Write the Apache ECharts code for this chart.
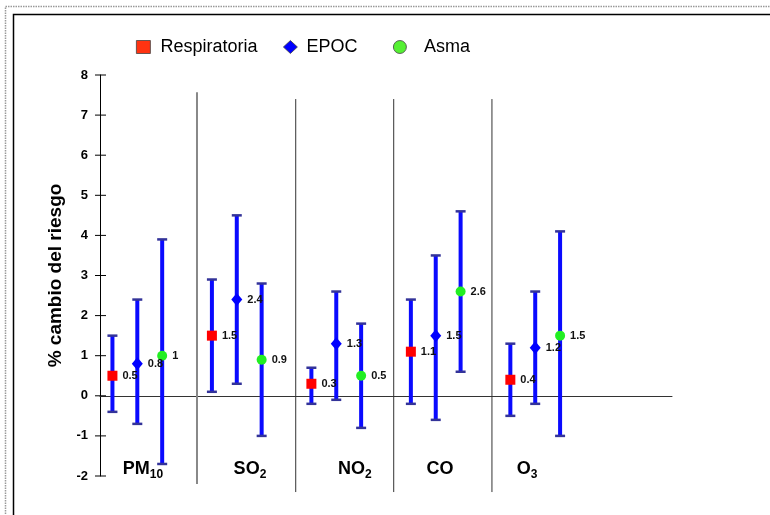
<!DOCTYPE html>
<html><head><meta charset="utf-8">
<script src="https://cdn.jsdelivr.net/npm/echarts@6/dist/echarts.min.js"></script>
<style>html,body{margin:0;padding:0;background:#fff}#c{width:770px;height:515px}</style>
</head><body><div id="c"></div>
<script>
// ---- data ----
const pollutantMain = ['PM', 'SO', 'NO', 'CO', 'O'];
const pollutantSub = ['10', '2', '2', '', '3'];
const seriesNames = ['Respiratoria', 'EPOC', 'Asma'];
const respValues = [0.5, 1.5, 0.3, 1.1, 0.4];
const respLow    = [-0.4, 0.1, -0.2, -0.2, -0.5];
const respHigh   = [1.5, 2.9, 0.7, 2.4, 1.3];
const epocValues = [0.8, 2.4, 1.3, 1.5, 1.2];
const epocLow    = [-0.7, 0.3, -0.1, -0.6, -0.2];
const epocHigh   = [2.4, 4.5, 2.6, 3.5, 2.6];
const asmaValues = [1, 0.9, 0.5, 2.6, 1.5];
const asmaLow    = [-1.7, -1.0, -0.8, 0.6, -1.0];
const asmaHigh   = [3.9, 2.8, 1.8, 4.6, 4.1];
const yTickValues = [-2, -1, 0, 1, 2, 3, 4, 5, 6, 7, 8];

// ---- layout (not data) ----
const FONT = 'Liberation Sans, Arial, sans-serif';
const SLOTS = 4, OFFSET = 0.5;
const xOf = (g, s) => g * SLOTS + OFFSET + s;
const separatorX = [3.9, 7.87, 11.81, 15.76];
const separatorTop = [7.57, 7.4, 7.4, 7.4];
const separatorBottom = [-2.2, -2.4, -2.4, -2.4];
const labelX = [1.73, 6.03, 10.25, 13.67, 17.17];
const labelY = -1.83;

const groups = [
  {values: respValues, low: respLow, high: respHigh, symbol: 'rect', size: 10, color: '#ff0000', legendColor: '#ff3311'},
  {values: epocValues, low: epocLow, high: epocHigh, symbol: 'diamond', size: [11, 13], color: '#0000ff', legendColor: '#0000ff'},
  {values: asmaValues, low: asmaLow, high: asmaHigh, symbol: 'circle', size: 10, color: '#22ee22', legendColor: '#55f033'}
];

const errData = [];
groups.forEach((gr, s) => gr.values.forEach((v, g) => errData.push([xOf(g, s), gr.low[g], gr.high[g]])));

const series = [];
// cross ticks on the y axis (both sides of the axis line)
series.push({
  type: 'custom', name: 'ticks', silent: true, clip: false, z: 2,
  data: yTickValues.map(v => [0, v]),
  renderItem: (p, api) => {
    const c = api.coord([api.value(0), api.value(1)]);
    return {type: 'line', shape: {x1: c[0] - 5, y1: c[1], x2: c[0] + 6, y2: c[1]}, style: {stroke: '#000', lineWidth: 1}};
  }
});
series.push({
  type: 'custom', name: 'sep', silent: true, clip: false, z: 1,
  data: separatorX.map((x, i) => [x, separatorTop[i], separatorBottom[i], i]),
  renderItem: (p, api) => {
    const a = api.coord([api.value(0), api.value(1)]);
    const b = api.coord([api.value(0), api.value(2)]);
    const first = api.value(3) === 0;
    return {type: 'line', shape: {x1: a[0], y1: a[1], x2: b[0], y2: b[1]},
      style: {stroke: first ? '#888' : '#333', lineWidth: first ? 2 : 1}};
  }
});
series.push({
  type: 'custom', name: 'err', silent: true, z: 3,
  data: errData,
  renderItem: (p, api) => {
    const x = api.value(0);
    const lo = api.coord([x, api.value(1)]);
    const hi = api.coord([x, api.value(2)]);
    const cap = 5;
    return {type: 'group', children: [
      {type: 'line', shape: {x1: lo[0], y1: lo[1], x2: hi[0], y2: hi[1]}, style: {stroke: '#0a0aff', lineWidth: 4}},
      {type: 'line', shape: {x1: lo[0] - cap, y1: lo[1], x2: lo[0] + cap, y2: lo[1]}, style: {stroke: '#333399', lineWidth: 2.5}},
      {type: 'line', shape: {x1: hi[0] - cap, y1: hi[1], x2: hi[0] + cap, y2: hi[1]}, style: {stroke: '#333399', lineWidth: 2.5}}
    ]};
  }
});
groups.forEach((gr, s) => {
  series.push({
    type: 'scatter', name: seriesNames[s], symbol: gr.symbol, symbolSize: gr.size, z: 5,
    itemStyle: {color: gr.color, opacity: 1},
    label: {show: true, position: 'right', distance: 5, fontFamily: FONT, fontWeight: 'bold', fontSize: 11, color: '#111',
      formatter: p => String(p.value[1])},
    data: gr.values.map((v, g) => [xOf(g, s), v])
  });
});
series.push({
  type: 'custom', name: 'cat', silent: true, clip: false, z: 6,
  data: pollutantMain.map((m, i) => [labelX[i], labelY, i]),
  renderItem: (p, api) => {
    const i = api.value(2);
    const c = api.coord([api.value(0), api.value(1)]);
    const sub = pollutantSub[i];
    return {type: 'text', x: c[0], y: c[1], style: {
      text: '{m|' + pollutantMain[i] + '}' + (sub ? '{s|' + sub + '}' : ''),
      align: 'center', verticalAlign: 'middle',
      rich: {
        m: {fontFamily: FONT, fontWeight: 'bold', fontSize: 18, lineHeight: 24, fill: '#000'},
        s: {fontFamily: FONT, fontWeight: 'bold', fontSize: 12, lineHeight: 10, verticalAlign: 'bottom', fill: '#000'}
      }
    }};
  }
});

function legendAt(idx, left, textPad) {
  const gr = groups[idx];
  return {
    data: [{name: seriesNames[idx], itemStyle: {color: gr.legendColor, borderColor: '#444', borderWidth: 0.8}}],
    left: left, top: 37, padding: 0, itemWidth: 14, itemHeight: 13, selectedMode: false,
    textStyle: {fontFamily: FONT, fontSize: 18, color: '#000', lineHeight: 20, padding: [0, 0, 0, textPad]}
  };
}

const option = {
  animation: false,
  backgroundColor: '#fff',
  grid: {left: 100, right: 98, top: 75, bottom: 39, containLabel: false},
  legend: [legendAt(0, 136, 5), legendAt(1, 283, 4), legendAt(2, 393, 12)],
  xAxis: {type: 'value', min: 0, max: 23,
    axisLine: {show: true, onZero: true, lineStyle: {color: '#333', width: 1}},
    axisTick: {show: false}, axisLabel: {show: false}, splitLine: {show: false}},
  yAxis: {type: 'value', min: -2, max: 8, interval: 1,
    axisLine: {show: true, onZero: false, lineStyle: {color: '#000', width: 1}},
    axisTick: {show: false},
    axisLabel: {margin: 12, fontFamily: FONT, fontWeight: 'bold', fontSize: 13, color: '#000'},
    splitLine: {show: false},
    name: '% cambio del riesgo', nameLocation: 'middle', nameGap: 34, nameRotate: 90,
    nameTextStyle: {fontFamily: FONT, fontWeight: 'bold', fontSize: 19, color: '#000'}},
  graphic: [
    {type: 'rect', shape: {x: 5.5, y: 6.5, width: 900, height: 700}, style: {fill: 'none', stroke: '#999', lineWidth: 1.5, lineDash: [1.5, 1]}, silent: true},
    {type: 'rect', shape: {x: 13.5, y: 14.5, width: 900, height: 700}, style: {fill: 'none', stroke: '#000', lineWidth: 1.5}, silent: true}
  ],
  series: series
};
const chart = echarts.init(document.getElementById('c'));
chart.setOption(option);
</script>
</body></html>
